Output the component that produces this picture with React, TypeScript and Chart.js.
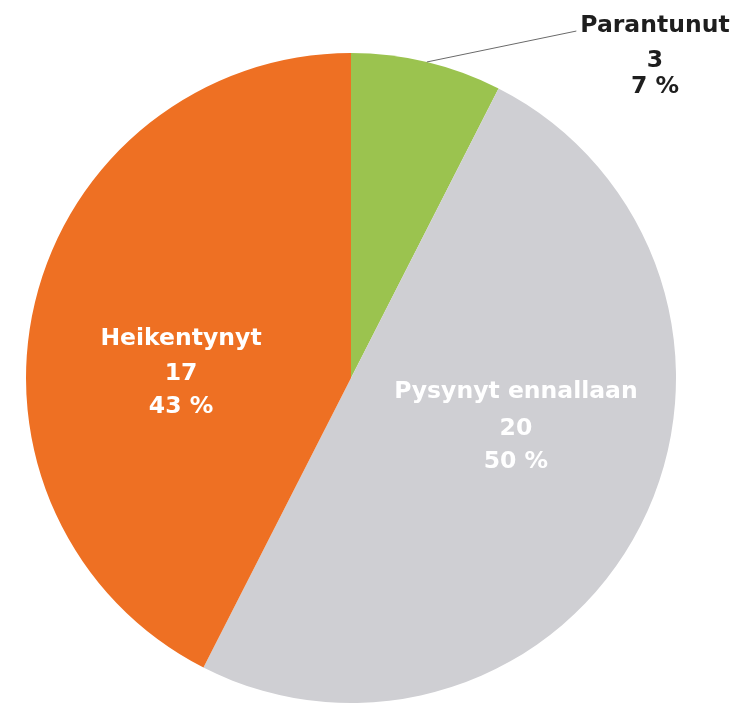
import React, { useEffect, useRef } from "react";
import { Chart, registerables } from "chart.js";

Chart.register(...registerables);

// ---- data ----
const categories = ["Parantunut", "Pysynyt ennallaan", "Heikentynyt"];
const counts = [3, 20, 17];
const percents = [7, 50, 43];

// ---- styles / layout ----
const sliceColors = ["#9bc34f", "#cfcfd3", "#ee7023"];
const labelColors = ["#1e1e1e", "#ffffff", "#ffffff"];
const labelRadius = [1.338, 0.537, 0.523]; // fraction of outer radius
const labelAngle = [-45.65, 19.1, 179.3]; // degrees, canvas convention
const lineOffsets = [
  [-35, 0, 26],
  [-37, 0, 33],
  [-35, 0, 33],
];
const hasLeader = [true, false, false];

const labelPlugin = {
  id: "sliceLabels",
  afterDatasetsDraw(chart: any) {
    const ctx = chart.ctx as CanvasRenderingContext2D;
    const meta = chart.getDatasetMeta(0);
    ctx.save();
    ctx.font = 'bold 23.5px "DejaVu Sans", Verdana, sans-serif';
    ctx.textAlign = "center";
    ctx.textBaseline = "alphabetic";
    meta.data.forEach((arc: any, i: number) => {
      const p = arc.getProps(["x", "y", "outerRadius", "startAngle", "endAngle"], true);
      const a = (labelAngle[i] * Math.PI) / 180;
      const ax = p.x + p.outerRadius * labelRadius[i] * Math.cos(a);
      const ay = p.y + p.outerRadius * labelRadius[i] * Math.sin(a);
      const lines = [categories[i], String(counts[i]), percents[i] + " %"];
      if (hasLeader[i]) {
        const mid = (p.startAngle + p.endAngle) / 2;
        const sx = p.x + p.outerRadius * Math.cos(mid);
        const sy = p.y + p.outerRadius * Math.sin(mid);
        const w = ctx.measureText(lines[0]).width;
        const ex = ax - w / 2 - 4;
        const ey = ay + lineOffsets[i][0] - 1;
        ctx.beginPath();
        ctx.moveTo(sx, sy);
        ctx.lineTo(ex, ey);
        ctx.strokeStyle = "#6a6a6a";
        ctx.lineWidth = 1;
        ctx.stroke();
      }
      ctx.fillStyle = labelColors[i];
      lines.forEach((t, j) => {
        ctx.fillText(t, ax, ay + lineOffsets[i][j]);
      });
    });
    ctx.restore();
  },
};

export default function App() {
  const ref = useRef<HTMLCanvasElement | null>(null);
  useEffect(() => {
    if (!ref.current) return;
    const chart = new Chart(ref.current, {
      type: "pie",
      data: {
        labels: categories,
        datasets: [
          {
            data: counts,
            backgroundColor: sliceColors,
            borderWidth: 0,
          },
        ],
      },
      options: {
        responsive: false,
        animation: false,
        devicePixelRatio: 1,
        layout: { padding: { left: 26, top: 53, right: 71, bottom: 0 } },
        plugins: {
          legend: { display: false },
          tooltip: { enabled: false },
        },
      },
      plugins: [labelPlugin],
    });
    return () => chart.destroy();
  }, []);
  return (
    <div style={{ position: "absolute", left: 0, top: 0, width: 747, height: 703, background: "#ffffff" }}>
      <canvas ref={ref} width={747} height={703} style={{ display: "block" }} />
    </div>
  );
}
